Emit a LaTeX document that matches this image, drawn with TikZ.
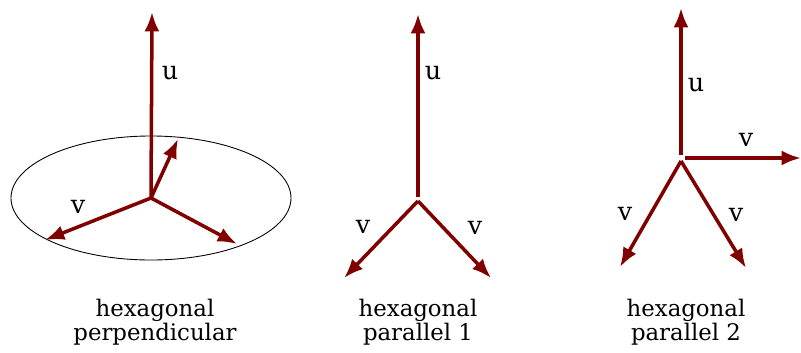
\documentclass[tikz,border=0pt]{standalone}
\usepackage{fontspec}
\setmainfont{DejaVu Serif}
\usetikzlibrary{arrows.meta}
\definecolor{vecred}{RGB}{128,0,0}

\begin{document}
\begin{tikzpicture}[x=0.02cm,y=-0.02cm,
  vec/.style={draw=vecred,line width=2pt,-{Latex[length=11pt,width=8.5pt]}},
  lbl/.style={font=\fontsize{14.5}{16}\selectfont,text=black},
  captext/.style={font=\fontsize{13}{13.7}\selectfont,align=center,text=black}]
\useasboundingbox (0,0) rectangle (801,352);

% hexagonal perpendicular
\coordinate (c1) at (151,198);
\draw[black,line width=0.5pt] (c1) ellipse [x radius=140,y radius=62];
\coordinate (u1) at (152,12);
\coordinate (p1) at (178,139);
\coordinate (l1) at (45,240);
\coordinate (r1) at (237,244);
\draw[vec] (c1) -- (u1);
\draw[vec] (c1) -- (p1);
\draw[vec] (c1) -- (l1);
\draw[vec] (c1) -- (r1);
\node[lbl] (lu1) at (170,73) {u};
\node[lbl] (lv1) at (78,207) {v};
\node[captext] (cap1) at (155,322) {hexagonal\\perpendicular};

% hexagonal parallel 1
\coordinate (c2) at (418,197);
\coordinate (d2) at (418,201);
\coordinate (u2) at (418,14);
\coordinate (l2) at (344,278);
\coordinate (r2) at (491,278);
\draw[vec] (c2) -- (u2);
\draw[vec] (d2) -- (l2);
\draw[vec] (d2) -- (r2);
\node[lbl] (lu2) at (433,73) {u};
\node[lbl] (lvl2) at (363,227) {v};
\node[lbl] (lvr2) at (475,228) {v};
\node[captext] (cap2) at (418,322) {hexagonal\\parallel 1};

% hexagonal parallel 2
\coordinate (c3) at (681,155);
\coordinate (e3) at (685,158);
\coordinate (d3) at (681,161);
\coordinate (u3) at (681,8);
\coordinate (h3) at (801,158);
\coordinate (l3) at (620,267);
\coordinate (r3) at (746,268);
\draw[vec] (c3) -- (u3);
\draw[vec] (e3) -- (h3);
\draw[vec] (d3) -- (l3);
\draw[vec] (d3) -- (r3);
\node[lbl] (lu3) at (696,85) {u};
\node[lbl] (lvh3) at (746,140) {v};
\node[lbl] (lvl3) at (625,214) {v};
\node[lbl] (lvr3) at (736,215) {v};
\node[captext] (cap3) at (686,322) {hexagonal\\parallel 2};

\end{tikzpicture}
\end{document}
